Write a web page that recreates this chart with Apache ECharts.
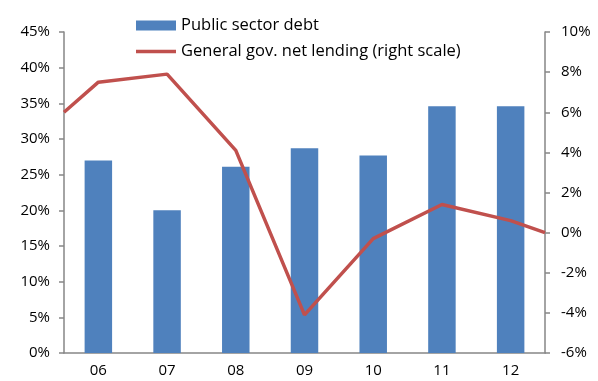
<!DOCTYPE html>
<html>
<head>
<meta charset="utf-8">
<script src="https://cdn.jsdelivr.net/npm/echarts@6/dist/echarts.min.js"></script>
<style>
html,body{margin:0;padding:0;background:#fff;}
#chart{width:598px;height:381px;}
</style>
</head>
<body>
<div id="chart"></div>
<script>
var categories = ['06', '07', '08', '09', '10', '11', '12'];
var publicDebt = [27.0, 20.0, 26.1, 28.7, 27.7, 34.6, 34.6];
// net lending: value at left plot edge, each year, value at right plot edge
var lendingPositions = [-0.5, 0, 1, 2, 3, 4, 5, 6, 6.5];
var netLending = [6.0, 7.5, 7.9, 4.1, -4.1, -0.3, 1.4, 0.6, 0.0];
var leftTicks = {min: 0, max: 45, interval: 5};
var rightTicks = {min: -6, max: 10, interval: 2};
var seriesNames = ['Public sector debt', 'General gov. net lending (right scale)'];

var font = 'Open Sans, Noto Sans, sans-serif';
var axisGray = '#868686';
var chart = echarts.init(document.getElementById('chart'));
chart.setOption({
  animation: false,
  grid: {left: 64, right: 53, top: 32, bottom: 28},
  legend: {
    orient: 'vertical', left: 131, top: 12, itemWidth: 40, itemHeight: 10, itemGap: 9,
    textStyle: {fontFamily: font, fontSize: 16.5, color: '#000'},
    data: [{name: seriesNames[0], icon: 'rect'},
           {name: seriesNames[1], icon: 'path://M0,0L40,0L40,3.5L0,3.5Z'}]
  },
  xAxis: [{
    type: 'category', data: categories,
    axisLine: {lineStyle: {color: axisGray, width: 1.5}},
    axisTick: {length: 5, lineStyle: {color: axisGray, width: 1.5}},
    axisLabel: {color: '#000', fontFamily: font, fontSize: 15, margin: 10}
  }, {
    type: 'value', min: -0.5, max: 6.5, show: false
  }],
  yAxis: [{
    type: 'value', min: leftTicks.min, max: leftTicks.max, interval: leftTicks.interval,
    axisLine: {show: true, onZero: false, lineStyle: {color: axisGray, width: 1.5}},
    axisTick: {show: true, length: 5, lineStyle: {color: axisGray, width: 1.5}},
    splitLine: {show: false},
    axisLabel: {color: '#000', fontFamily: font, fontSize: 15, margin: 14, formatter: '{value}%'}
  }, {
    type: 'value', min: rightTicks.min, max: rightTicks.max, interval: rightTicks.interval,
    axisLine: {show: true, onZero: false, lineStyle: {color: axisGray, width: 1.5}},
    axisTick: {show: true, length: 5, lineStyle: {color: axisGray, width: 1.5}},
    splitLine: {show: false},
    axisLabel: {color: '#000', fontFamily: font, fontSize: 15, margin: 16, formatter: '{value}%'}
  }],
  series: [{
    name: seriesNames[0], type: 'bar', data: publicDebt, barWidth: '40%',
    xAxisIndex: 0, yAxisIndex: 0,
    itemStyle: {color: '#4F81BD'}
  }, {
    name: seriesNames[1], type: 'line', xAxisIndex: 1, yAxisIndex: 1,
    data: lendingPositions.map(function (p, i) { return [p, netLending[i]]; }),
    symbol: 'none', lineStyle: {color: '#C0504D', width: 3.5}, itemStyle: {color: '#C0504D'}
  }]
});
</script>
</body>
</html>
